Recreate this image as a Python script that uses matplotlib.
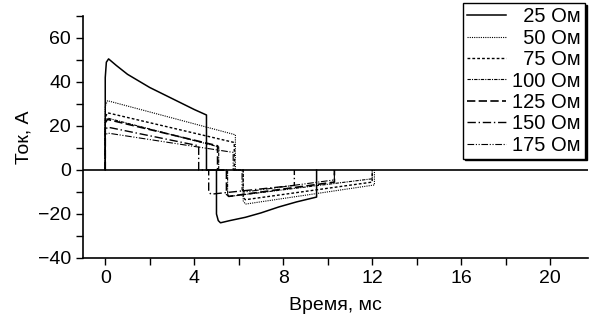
import matplotlib
matplotlib.use('Agg')
import matplotlib.pyplot as plt
from matplotlib.ticker import MultipleLocator

plt.rcParams['font.family'] = ['Liberation Sans', 'DejaVu Sans']

# current pulses for different load resistances (time in ms, current in A)
labels = ['25 Ом', '50 Ом', '75 Ом', '100 Ом', '125 Ом', '150 Ом', '175 Ом']

t25 = [0, 0, 0.05, 0.15, 0.5, 1.0, 1.5, 2.0, 2.5, 3.0, 3.5, 4.0, 4.55, 4.55,
       5.0, 5.0, 5.08, 5.18, 5.6, 6.3, 7.0, 7.8, 8.6, 9.5, 9.5]
i25 = [0, 42, 49, 50.5, 47.5, 43.5, 40.5, 37.5, 35, 32.5, 30, 27.5, 25, 0,
       0, -20, -23, -24, -23, -21.5, -19.5, -16.8, -14.5, -12.3, 0]

t50 = [0, 0, 0.1, 5.85, 5.85, 6.2, 6.2, 6.3, 12.1, 12.1]
i50 = [0, 29, 31.5, 16, 0, 0, -14, -15.5, -6.8, 0]

t75 = [0, 0, 0.1, 5.8, 5.8, 6.2, 6.2, 6.3, 12.0, 12.0]
i75 = [0, 24, 26, 12.5, 0, 0, -12.5, -13.5, -5.5, 0]

t100 = [0, 0, 0.1, 5.1, 5.1, 5.5, 5.5, 5.6, 12.0, 12.0]
i100 = [0, 22, 23.6, 10.5, 0, 0, -11, -12, -4, 0]

t125 = [0, 0, 0.1, 5.05, 5.05, 5.45, 5.45, 5.55, 10.3, 10.3]
i125 = [0, 21.5, 23, 11, 0, 0, -11, -12, -5.5, 0]

t150 = [0, 0, 0.1, 4.2, 4.2, 4.65, 4.65, 4.75, 8.5, 8.5]
i150 = [0, 18, 19.5, 11, 0, 0, -10, -11, -7, 0]

t175 = [0, 0, 0.1, 5.75, 5.75, 6.15, 6.15, 6.25, 10.3, 10.3]
i175 = [0, 15.5, 16.8, 8, 0, 0, -9, -10, -4.5, 0]

times = [t25, t50, t75, t100, t125, t150, t175]
currents = [i25, i50, i75, i100, i125, i150, i175]
styles = ['-', (0, (1, 1)), (0, (2, 1.5)), (0, (3, 1, 1, 1)),
          (0, (5, 2)), (0, (6, 2, 1, 2)), (0, (6, 1.5, 1, 1.5, 1, 1.5))]
widths = [1.1, 0.8, 1.0, 0.8, 1.2, 1.0, 0.8]

fig = plt.figure(figsize=(5.89, 3.25), dpi=100)
ax = fig.add_axes([83 / 589, 67 / 325, 505 / 589, 242 / 325])

ax.axhline(0, color='black', lw=1.2)
for t, i, lab, ls, lw in zip(times, currents, labels, styles, widths):
    # pad short labels with a figure space so they line up on the right
    pad = '\u2007' * (6 - len(lab))
    ax.plot(t, i, color='black', ls=ls, lw=lw, label=pad + lab)

ax.set_xlim(-1, 21.7)
ax.set_ylim(-40, 70)
ax.xaxis.set_major_locator(MultipleLocator(4))
ax.xaxis.set_minor_locator(MultipleLocator(2))
ax.yaxis.set_major_locator(MultipleLocator(20))
ax.yaxis.set_minor_locator(MultipleLocator(10))
ax.tick_params(which='both', direction='out', labelsize=14, width=1, length=5)
ax.spines['top'].set_visible(False)
ax.spines['right'].set_visible(False)
ax.spines['left'].set_linewidth(1.2)
ax.spines['bottom'].set_linewidth(1.2)

ax.set_xlabel('Время, мс', fontsize=14, labelpad=7)
ax.set_ylabel('Ток, А', fontsize=14)

leg = ax.legend(loc='upper right', bbox_to_anchor=(0.993, 0.99),
                bbox_transform=fig.transFigure, borderaxespad=0,
                fontsize=14.5, frameon=True, fancybox=False,
                shadow={'color': 'black', 'alpha': 1, 'ox': 1.2, 'oy': -1.2},
                labelspacing=0.12, handlelength=1.95, handletextpad=0.3,
                borderpad=0.2)
leg.get_frame().set_edgecolor('black')
leg.get_frame().set_linewidth(1.0)

fig.savefig('out.png', dpi=100)
